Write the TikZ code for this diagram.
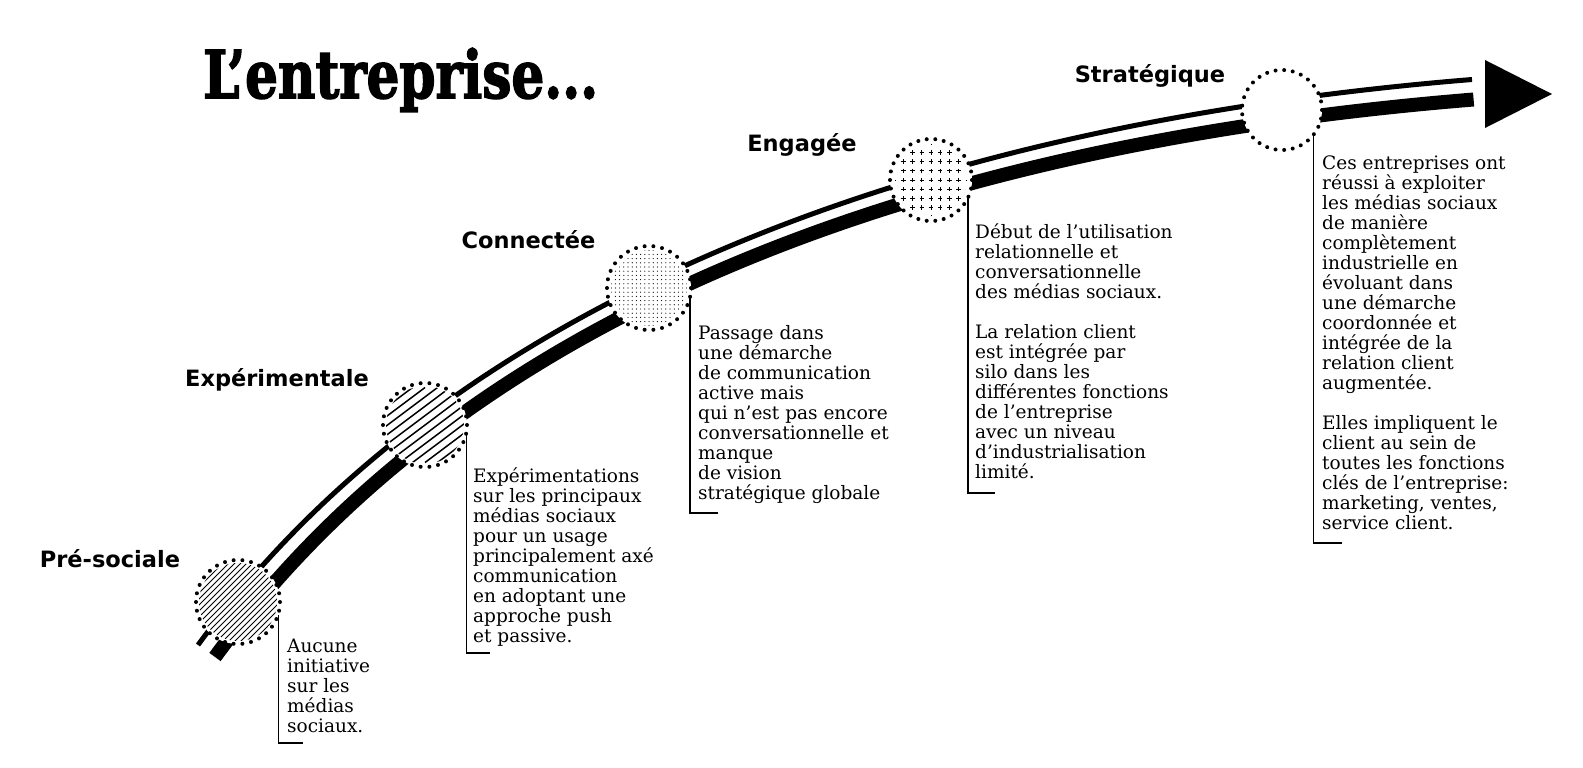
\documentclass[tikz,border=0pt]{standalone}
\usepackage{fontspec}
\usepackage{graphicx}
\setmainfont{DejaVu Serif}
\newfontfamily\headfont{DejaVu Sans}
\newfontfamily\titlefont{DejaVu Serif}[BoldFeatures={FakeBold=2.5}]
\usetikzlibrary{calc}
\newcommand\dotring[3]{\foreach \i in {1,...,#3}{\fill (#1) ++(\i*360/#3:#2) circle (2);}}
\newcommand\tstrut{\rule{0pt}{16pt}}
\tikzset{
  body/.style={anchor=north west, inner sep=0pt, align=left, font=\fontsize{18.5}{20}\selectfont},
  head/.style={anchor=base, inner sep=0pt, font=\headfont\bfseries\fontsize{22.5}{26}\selectfont},
  ring/.style={circle, minimum size=#1, inner sep=0pt, fill=white},
  marker/.style={line width=1.2pt},
  thinstripe/.style={line width=5pt},
  thickstripe/.style={line width=14pt},
}
\begin{document}
\begin{tikzpicture}[x=1pt,y=-1pt]
\fill[white] (0,0) rectangle (1583,768);
\useasboundingbox (0,0) rectangle (1583,768);

% title
\node[anchor=base west, inner sep=0pt] (title) at (203,98)
  {\resizebox{395pt}{50pt}{\titlefont\fontsize{60}{60}\selectfont\bfseries L’entreprise...}};

% track
\draw[thinstripe] (198,645) .. controls (434,322) and (874,128) .. (1472,79.5);
\draw[thickstripe] (215,657) .. controls (450,334) and (876,148) .. (1473.6,99.5);
\fill (1485,60) -- (1485,128) -- (1552,94) -- cycle;

% circles
\node[ring=84pt] (c1) at (238,602) {};
\node[ring=84pt] (c2) at (425,425) {};
\node[ring=84pt] (c3) at (649,288) {};
\node[ring=82pt] (c4) at (931,180) {};
\node[ring=80pt] (c5) at (1282,110) {};

% patterns
\begin{scope}
  \clip (c1) circle (39);
  \foreach \k in {-90,-84,...,90}{\draw[line width=0.85pt] ($(c1)+(\k-50,50)$) -- ($(c1)+(\k+50,-50)$);}
\end{scope}
\begin{scope}
  \clip (c2) circle (39);
  \foreach \k in {-100,-87.5,...,100}{\draw[line width=1.5pt] ($(c2)+(\k-50,37.5)$) -- ($(c2)+(\k+50,-37.5)$);}
\end{scope}
\begin{scope}
  \clip (c3) circle (38);
  \foreach \i in {-10,...,10}{\foreach \j in {-10,...,10}{\fill ($(c3)+(\i*4.2,\j*4.2)$) circle (0.6);}}
\end{scope}
\begin{scope}
  \clip (c4) circle (36);
  \foreach \i in {-4,...,4}{\foreach \j in {-4,...,4}{
    \draw[line width=0.8pt] ($(c4)+(\i*9.2-2.2,\j*9.2)$) -- ++(4.4,0)
                            ($(c4)+(\i*9.2,\j*9.2-2.2)$) -- ++(0,4.4);}}
\end{scope}

\dotring{c1}{42}{30}
\dotring{c2}{42}{30}
\dotring{c3}{42}{30}
\dotring{c4}{41}{30}
\dotring{c5}{40}{29}

% headings
\node[head] (h1) at (110,567) {Pré-sociale};
\node[head] (h2) at (277,386) {Expérimentale};
\node[head] (h3) at (528.5,248) {Connectée};
\node[head] (h4) at (802,151) {Engagée};
\node[head] (h5) at (1150,83) {Stratégique};

% markers
\coordinate (e1) at (303,743);
\coordinate (e2) at (490,653);
\coordinate (e3) at (718,513);
\coordinate (e4) at (995,493);
\coordinate (e5) at (1342,543);
\draw[marker] (c1.-18) |- (e1);
\draw[marker] (c2.-13) |- (e2);
\draw[marker] (c3.-14) |- (e3);
\draw[marker] (c4.-26) |- (e4);
\draw[marker] (c5.-38) |- (e5);

% texts
\node[body] (t1) at (287,636) {\tstrut Aucune\\initiative\\sur les\\médias\\sociaux.};
\node[body] (t2) at (473,466) {\tstrut Expérimentations\\sur les principaux\\médias sociaux\\pour un usage\\principalement axé\\communication\\en adoptant une\\approche push\\et passive.};
\node[body] (t3) at (698,323) {\tstrut Passage dans\\une démarche\\de communication\\active mais\\qui n’est pas encore\\conversationnelle et\\manque\\de vision\\stratégique globale};
\node[body] (t4) at (975,222) {\tstrut Début de l’utilisation\\relationnelle et\\conversationnelle\\des médias sociaux.\\[20pt]La relation client\\est intégrée par\\silo dans les\\différentes fonctions\\de l’entreprise\\avec un niveau\\d’industrialisation\\limité.};
\node[body] (t5) at (1322,153) {\tstrut Ces entreprises ont\\réussi à exploiter\\les médias sociaux\\de manière\\complètement\\industrielle en\\évoluant dans\\une démarche\\coordonnée et\\intégrée de la\\relation client\\augmentée.\\[20pt]Elles impliquent le\\client au sein de\\toutes les fonctions\\clés de l’entreprise:\\marketing, ventes,\\service client.};
\end{tikzpicture}
\end{document}
